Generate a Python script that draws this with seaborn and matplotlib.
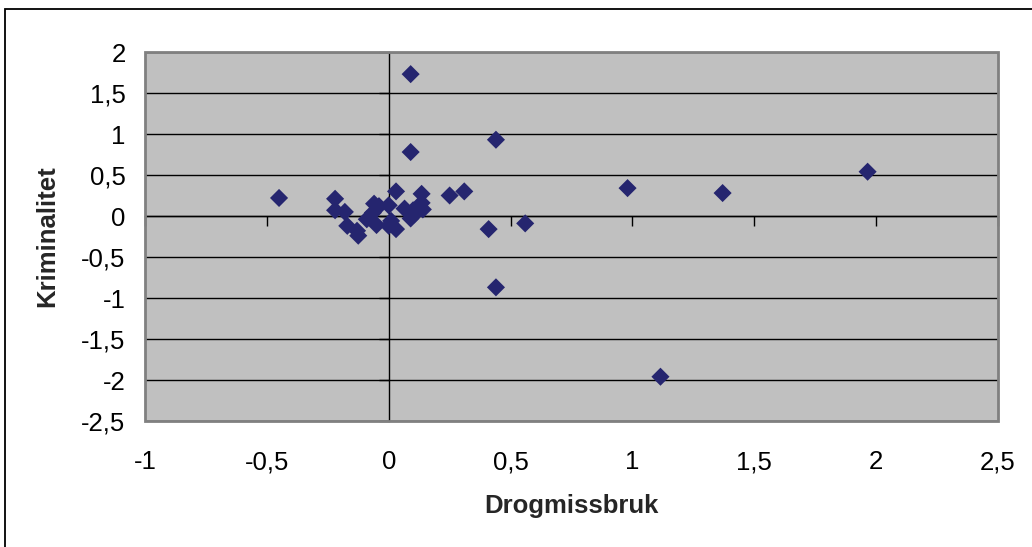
import matplotlib
matplotlib.use("Agg")
import matplotlib.pyplot as plt
import matplotlib.patches as mpatches
from matplotlib.ticker import FuncFormatter
import seaborn as sns
import pandas as pd

# --- data ---
drogmissbruk = [-0.45, -0.22, -0.22, -0.18, -0.17, -0.13, -0.125, -0.09, -0.06,
                -0.065, -0.05, -0.04, 0.0, 0.0, 0.03, 0.01, 0.03, 0.065, 0.09,
                0.10, 0.105, 0.135, 0.135, 0.14, 0.09, 0.09, 0.25, 0.31, 0.44,
                0.41, 0.56, 0.44, 0.98, 1.37, 1.965, 1.115]
kriminalitet = [0.22, 0.21, 0.07, 0.05, -0.12, -0.18, -0.24, -0.04, 0.15,
                0.04, -0.11, 0.12, 0.13, -0.12, -0.16, -0.06, 0.30, 0.09, -0.03,
                0.07, 0.02, 0.27, 0.16, 0.08, 0.78, 1.73, 0.25, 0.30, 0.93,
                -0.16, -0.09, -0.87, 0.34, 0.28, 0.54, -1.96]
x_ticks = [-1, -0.5, 0, 0.5, 1, 1.5, 2, 2.5]
y_ticks = [-2.5, -2, -1.5, -1, -0.5, 0, 0.5, 1, 1.5, 2]
x_label = "Drogmissbruk"
y_label = "Kriminalitet"

df = pd.DataFrame({x_label: drogmissbruk, y_label: kriminalitet})

sns.set_style("white")
plt.rcParams["font.family"] = ["Liberation Sans", "DejaVu Sans"]
plt.rcParams["axes.unicode_minus"] = False

W, H = 1032, 547
fig = plt.figure(figsize=(W / 100, H / 100), dpi=100)
fig.patch.set_facecolor("white")
ax = fig.add_axes([145 / W, 1 - 421 / H, (998 - 145) / W, (421 - 52) / H])
ax.set_facecolor("#C0C0C0")

sns.scatterplot(data=df, x=x_label, y=y_label, ax=ax, marker="D", s=85,
                color="#25256F", edgecolor="none", linewidth=0, zorder=5)

ax.set_xlim(x_ticks[0], x_ticks[-1])
ax.set_ylim(y_ticks[0], y_ticks[-1])
ax.set_xticks(x_ticks)
ax.set_yticks(y_ticks)
ax.set_xlabel("")
ax.set_ylabel("")

# axes crossing at zero with outward ticks
for side in ("top", "right"):
    ax.spines[side].set_visible(False)
for side in ("left", "bottom"):
    ax.spines[side].set_position(("data", 0))
    ax.spines[side].set_color("black")
    ax.spines[side].set_linewidth(1.0)
    ax.spines[side].set_zorder(3)
ax.tick_params(axis="both", direction="out", length=7, width=1.0, color="black",
               labelleft=False, labelbottom=False, left=True, bottom=True)

ax.yaxis.grid(True, color="black", linewidth=1.0)
ax.xaxis.grid(False)
ax.set_axisbelow(True)

fmt = FuncFormatter(lambda v, p: ("%g" % v).replace(".", ","))

secx = ax.secondary_xaxis("bottom")
secx.set_xticks(x_ticks)
secx.xaxis.set_major_formatter(fmt)
secx.tick_params(length=0, pad=21, labelsize=18.5, labelcolor="black")
secx.spines["bottom"].set_visible(False)
secx.set_xlabel(x_label, fontsize=18.5, fontweight="bold", labelpad=14)

secy = ax.secondary_yaxis("left")
secy.set_yticks(y_ticks)
secy.yaxis.set_major_formatter(fmt)
secy.tick_params(length=0, pad=14, labelsize=18.5, labelcolor="black")
secy.spines["left"].set_visible(False)
secy.set_ylabel(y_label, fontsize=18.5, fontweight="bold", labelpad=16)

# plot area frame
ax.add_patch(mpatches.Rectangle((0, 0), 1, 1, transform=ax.transAxes, fill=False,
                                edgecolor="#808080", linewidth=2.0, clip_on=False,
                                zorder=6))
# chart area outline
fig.add_artist(mpatches.Rectangle((4.5 / W, -0.05), 1.2, 1 - 9 / H + 0.05,
                                  transform=fig.transFigure, fill=False,
                                  edgecolor="black", linewidth=1.3))

fig.savefig("out.png", dpi=100)
